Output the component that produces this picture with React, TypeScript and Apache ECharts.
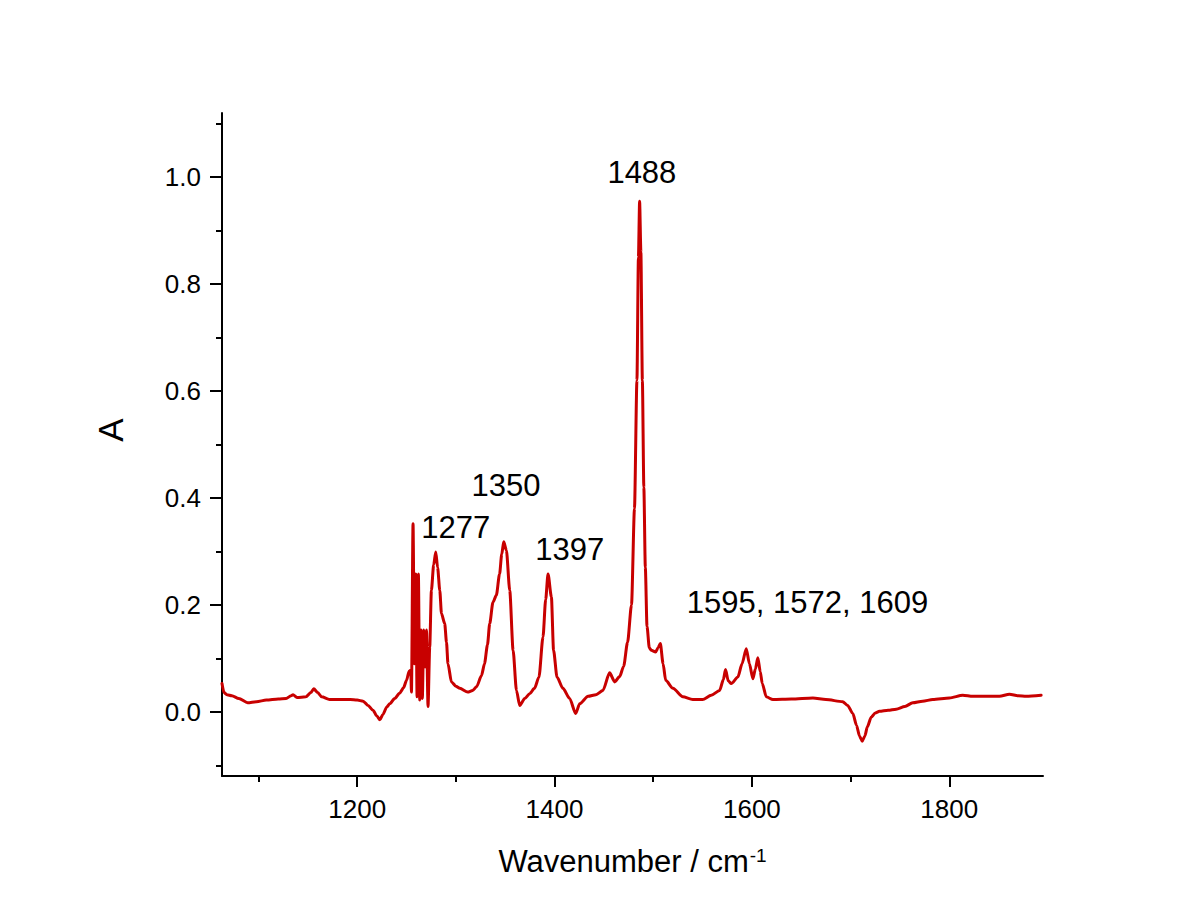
import React, { useEffect, useRef } from "react";
import * as echarts from "echarts";

// Wavenumber (cm-1) and absorbance
const wavenumbers: number[] = [
  1063, 1065, 1068, 1073, 1080, 1089, 1098, 1108, 1120, 1128, 1133, 1135, 1139, 1148, 1153, 1156, 1160, 1164,
  1172, 1185, 1193, 1200, 1206, 1211, 1216, 1220, 1223, 1226, 1230, 1233, 1238, 1243, 1247, 1250, 1252.6, 1254.3,
  1255, 1256.6, 1258, 1259.4, 1260.7, 1262, 1263.4, 1264.7, 1266, 1267.5, 1268.8, 1270.2, 1271.8, 1273.5, 1275.2,
  1277.5, 1279.6, 1281.5, 1283.7, 1285.4, 1288.7, 1290.5, 1292, 1295.5, 1300, 1304, 1312, 1317, 1321, 1326, 1329,
  1332, 1334.3, 1337.6, 1341, 1344.3, 1346.5, 1348.5, 1351.2, 1354.6, 1358, 1361.4, 1364.7, 1369.8, 1374.8, 1379.7,
  1384.2, 1388.3, 1391, 1393.4, 1396.8, 1399, 1402.5, 1408.5, 1415.3, 1421.4, 1425.5, 1434, 1442, 1449, 1455.8,
  1461, 1466, 1470, 1474, 1478, 1481, 1483.5, 1485, 1486.2, 1487.5, 1489, 1490.5, 1492, 1493.7, 1496, 1498, 1502.4,
  1505, 1507.2, 1510, 1512.6, 1520, 1530, 1540, 1550, 1558.8, 1567.3, 1571, 1573.3, 1576, 1579.1, 1585.8, 1590,
  1594.3, 1597.5, 1601, 1603.5, 1606, 1608.5, 1610.5, 1614.6, 1621.3, 1640, 1661.8, 1675, 1692, 1697, 1702.3, 1706,
  1709, 1711.8, 1714.5, 1717, 1720.9, 1725, 1729.3, 1738, 1746.2, 1755, 1763, 1773, 1783.3, 1800.2, 1813.7, 1823.8,
  1837, 1850.9, 1861, 1870, 1877.9, 1893.1,
];

const absorbance: number[] = [
  0.053, 0.036, 0.032, 0.03, 0.025, 0.017, 0.019, 0.022, 0.024, 0.025, 0.03, 0.032, 0.027, 0.028, 0.036, 0.043, 0.036, 0.028,
  0.023, 0.023, 0.023, 0.022, 0.02, 0.012, 0.003, -0.008, -0.015, -0.005, 0.009, 0.015, 0.025, 0.035, 0.045, 0.059, 0.076, 0.078,
  0.037, 0.352, 0.09, 0.258, 0.028, 0.258, 0.022, 0.153, 0.025, 0.153, 0.084, 0.153, 0.01, 0.121, 0.227,
  0.275, 0.299, 0.27, 0.227, 0.184, 0.165, 0.13, 0.09, 0.056, 0.048, 0.044, 0.037, 0.04, 0.047, 0.068, 0.09,
  0.125, 0.165, 0.205, 0.218, 0.258, 0.295, 0.318, 0.302, 0.227, 0.115, 0.04, 0.012, 0.025, 0.034, 0.044,
  0.065, 0.14, 0.21, 0.258, 0.215, 0.115, 0.065, 0.044, 0.025, -0.003, 0.015, 0.029, 0.032, 0.04, 0.073,
  0.056, 0.066, 0.085, 0.13, 0.2, 0.38, 0.62, 0.85, 0.955, 0.86, 0.62, 0.42, 0.27, 0.16, 0.12, 0.115, 0.112,
  0.12, 0.128, 0.09, 0.059, 0.044, 0.028, 0.023, 0.023, 0.031, 0.04, 0.06, 0.079, 0.058, 0.053, 0.065, 0.09,
  0.118, 0.09, 0.062, 0.08, 0.101, 0.075, 0.053, 0.028, 0.023, 0.024, 0.026, 0.023, 0.019, 0.012, -0.003, -0.025,
  -0.045, -0.055, -0.045, -0.028, -0.01, -0.002, 0.001, 0.003, 0.005, 0.01, 0.017, 0.02, 0.023, 0.026, 0.031, 0.029,
  0.029, 0.029, 0.033, 0.03, 0.029, 0.031,
];

// Peak annotations: text and anchor (data coordinates of text centre)
const peakLabels: string[] = ["1277", "1350", "1397", "1488", "1595, 1572, 1609"];
const peakLabelX: number[] = [1299.8, 1350.9, 1415.4, 1488.5, 1656.3];
const peakLabelY: number[] = [0.344, 0.424, 0.303, 1.008, 0.204];

// Axis ticks
const xMajorTicks: number[] = [1200, 1400, 1600, 1800];
const xMinorTicks: number[] = [1100, 1300, 1500, 1700];
const yMajorTicks: number[] = [0, 0.2, 0.4, 0.6, 0.8, 1.0];
const yMinorTicks: number[] = [-0.1, 0.1, 0.3, 0.5, 0.7, 0.9, 1.1];

const X_MIN = 1063;
const X_MAX = 1895;
const Y_MIN = -0.12;
const Y_MAX = 1.12;

const FONT = "'Liberation Sans', Arial, sans-serif";

export default function App() {
  const ref = useRef<HTMLDivElement>(null);

  useEffect(() => {
    if (!ref.current) return;
    const chart = echarts.init(ref.current, null, { renderer: "svg" });

    const lineData = wavenumbers.map((w, i) => [w, absorbance[i]]);
    const labelData = peakLabels.map((t, i) => ({ name: t, value: [peakLabelX[i], peakLabelY[i]] }));

    const axisLineStyle = { color: "#000", width: 2 };

    chart.setOption({
      animation: false,
      backgroundColor: "#ffffff",
      grid: { left: 222, top: 113, width: 821, height: 663 },
      xAxis: [
        {
          type: "value",
          min: X_MIN,
          max: X_MAX,
          axisLine: { show: true, onZero: false, lineStyle: axisLineStyle },
          axisTick: { show: true, inside: false, length: 11, customValues: xMajorTicks, lineStyle: { color: "#000", width: 2 } },
          axisLabel: {
            show: true,
            customValues: xMajorTicks,
            margin: 20,
            fontSize: 26,
            color: "#000",
            fontFamily: FONT,
            formatter: (v: number) => String(Math.round(v)),
          },
          splitLine: { show: false },
          name: "Wavenumber / cm{sup|-1}",
          nameLocation: "middle",
          nameGap: 70,
          nameTextStyle: {
            fontSize: 31,
            color: "#000",
            fontFamily: FONT,
            rich: {
              sup: { fontSize: 19, color: "#000", fontFamily: FONT, verticalAlign: "top", padding: [0, 0, 0, 1] },
            },
          },
        },
        {
          type: "value",
          min: X_MIN,
          max: X_MAX,
          position: "bottom",
          axisLine: { show: false, onZero: false },
          axisTick: { show: true, inside: false, length: 6, customValues: xMinorTicks, lineStyle: { color: "#000", width: 2 } },
          axisLabel: { show: false },
          splitLine: { show: false },
        },
      ],
      yAxis: [
        {
          type: "value",
          min: Y_MIN,
          max: Y_MAX,
          position: "left",
          axisLine: { show: true, onZero: false, lineStyle: axisLineStyle },
          axisTick: { show: true, inside: false, length: 12, customValues: yMajorTicks, lineStyle: { color: "#000", width: 2 } },
          axisLabel: {
            show: true,
            customValues: yMajorTicks,
            margin: 21,
            fontSize: 26,
            color: "#000",
            fontFamily: FONT,
            formatter: (v: number) => v.toFixed(1),
          },
          splitLine: { show: false },
        },
        {
          type: "value",
          min: Y_MIN,
          max: Y_MAX,
          position: "left",
          axisLine: { show: false, onZero: false },
          axisTick: { show: true, inside: false, length: 6, customValues: yMinorTicks, lineStyle: { color: "#000", width: 2 } },
          axisLabel: { show: false },
          splitLine: { show: false },
        },
      ],
      graphic: [
        {
          type: "text",
          x: 110,
          y: 430,
          rotation: Math.PI / 2,
          style: {
            text: "A",
            fontSize: 35,
            fontFamily: FONT,
            fill: "#000",
            align: "center",
            verticalAlign: "middle",
          },
        },
      ],
      series: [
        {
          type: "line",
          xAxisIndex: 0,
          yAxisIndex: 0,
          data: lineData,
          showSymbol: false,
          symbol: "none",
          smooth: 0.25,
          smoothMonotone: "x",
          lineStyle: { color: "#C80000", width: 3, join: "round", cap: "round" },
          z: 3,
        },
        {
          type: "scatter",
          xAxisIndex: 0,
          yAxisIndex: 0,
          data: labelData,
          symbolSize: 0,
          silent: true,
          itemStyle: { opacity: 1 },
          label: {
            show: true,
            position: "inside",
            formatter: "{b}",
            fontSize: 31,
            color: "#000000",
            opacity: 1,
            textBorderWidth: 0,
            textBorderColor: "transparent",
            fontFamily: FONT,
          },
          z: 4,
        },
      ],
    });

    return () => chart.dispose();
  }, []);

  return (
    <div
      ref={ref}
      style={{ position: "fixed", left: 0, top: 0, width: 1195, height: 920, background: "#fff" }}
    />
  );
}
